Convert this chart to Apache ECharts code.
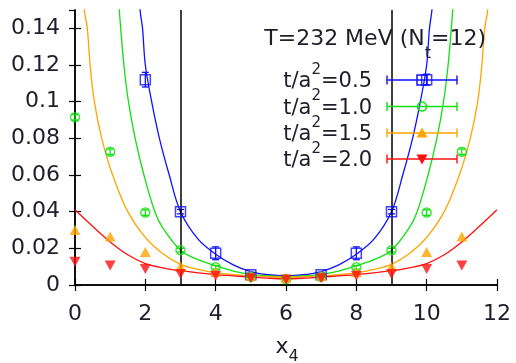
<!DOCTYPE html>
<html><head><meta charset="utf-8">
<script src="https://cdn.jsdelivr.net/npm/echarts@6/dist/echarts.min.js"></script>
<style>html,body{margin:0;padding:0;background:#fff}#c{width:516px;height:363px}</style>
</head><body><div id="c"></div>
<script>
// ---- data ----
const cutLines = [3, 9];
const legendLabels = ['0.5', '1.0', '1.5', '2.0'];
const titleMain = 'T=232 MeV (N';
const titleSub = 't';
const titleEnd = '=12)';

// points: [x, y, error]
const bluePts = [[2,0.112,0.004],[3,0.040,0.0012],[4,0.0173,0.0035],[5,0.0056,0.001],[7,0.0056,0.001],[8,0.0173,0.0035],[9,0.040,0.0012],[10,0.112,0.003]];
const greenPts = [[0,0.0915,0.0015],[1,0.0727,0.0015],[2,0.0395,0.0015],[3,0.019,0.001],[4,0.0097,0.001],[5,0.0045,0.0005],[6,0.0032,0.0005],[7,0.0045,0.0005],[8,0.0097,0.001],[9,0.019,0.001],[10,0.0395,0.0015],[11,0.0727,0.0015]];
const orangePts = [[0,0.030],[1,0.0264],[2,0.018],[3,0.010],[4,0.0071],[5,0.005],[6,0.004],[7,0.005],[8,0.0071],[9,0.010],[10,0.018],[11,0.0264]];
const redPts = [[0,0.0127],[1,0.0107],[2,0.0087],[3,0.006],[4,0.005],[5,0.0037],[6,0.003],[7,0.0037],[8,0.005],[9,0.006],[10,0.0087],[11,0.0107]];

// fit curves: [x, y]
const blueCurve = [[1.7,0.19],[1.85,0.15],[1.92,0.14],[2.0,0.12],[2.18,0.10],[2.4,0.08],[2.68,0.06],[3,0.040],[3.5,0.025],[4,0.0168],[4.5,0.011],[5,0.0073],[5.5,0.0056],[6,0.005],[6.5,0.0056],[7,0.0073],[7.5,0.011],[8,0.0168],[8.5,0.025],[9,0.040],[9.32,0.06],[9.6,0.08],[9.82,0.10],[10,0.12],[10.08,0.14],[10.15,0.15],[10.3,0.19]];
const greenCurve = [[1.15,0.19],[1.26,0.15],[1.30,0.14],[1.39,0.12],[1.52,0.10],[1.71,0.08],[1.96,0.06],[2.27,0.040],[2.5,0.031],[3,0.019],[3.5,0.0138],[4,0.0105],[4.5,0.0076],[5,0.0058],[5.5,0.0049],[6,0.0045],[6.5,0.0049],[7,0.0058],[7.5,0.0076],[8,0.0105],[8.5,0.0138],[9,0.019],[9.5,0.031],[9.73,0.040],[10.04,0.06],[10.29,0.08],[10.48,0.10],[10.61,0.12],[10.70,0.14],[10.74,0.15],[10.85,0.19]];
const orangeCurve = [[0.15,0.19],[0.265,0.15],[0.35,0.14],[0.43,0.12],[0.55,0.10],[0.76,0.08],[1.07,0.06],[1.5,0.040],[2,0.026],[2.5,0.017],[3,0.0113],[3.5,0.0085],[4,0.0066],[4.5,0.0057],[5,0.005],[5.5,0.0045],[6,0.0043],[6.5,0.0045],[7,0.005],[7.5,0.0057],[8,0.0066],[8.5,0.0085],[9,0.0113],[9.5,0.017],[10,0.026],[10.5,0.040],[10.93,0.06],[11.24,0.08],[11.45,0.10],[11.57,0.12],[11.65,0.14],[11.735,0.15],[11.85,0.19]];
const redCurve = [[0,0.041],[0.5,0.032],[1,0.0235],[1.5,0.0165],[2,0.0117],[2.5,0.0094],[3,0.0078],[3.5,0.0066],[4,0.0057],[4.5,0.005],[5,0.0043],[5.5,0.0037],[6,0.0034],[6.5,0.0037],[7,0.0043],[7.5,0.005],[8,0.0057],[8.5,0.0066],[9,0.0078],[9.5,0.0094],[10,0.0117],[10.5,0.0165],[11,0.0235],[11.5,0.032],[12,0.041]];

// ---- styling ----
const FONT = 'DejaVu Sans';
const TXT = '#1e1e2a';
const C = {blue:'#1010ff', green:'#10e010', orange:'#ffa500', red:'#ff1010'};

const chart = echarts.init(document.getElementById('c'), null, {renderer:'canvas'});

function errSeries(pts, color) {
  return {
    type:'custom', z:4, silent:true,
    data: pts.map(p => [p[0], p[1]-p[2], p[1]+p[2]]),
    encode:{x:0, y:[1,2]},
    renderItem:(params, api) => {
      const a = api.coord([api.value(0), api.value(1)]);
      const b = api.coord([api.value(0), api.value(2)]);
      const w = 3.5;
      const st = {stroke:color, lineWidth:1.3};
      return {type:'group', children:[
        {type:'line', shape:{x1:a[0],y1:a[1],x2:b[0],y2:b[1]}, style:st},
        {type:'line', shape:{x1:a[0]-w,y1:a[1],x2:a[0]+w,y2:a[1]}, style:st},
        {type:'line', shape:{x1:b[0]-w,y1:b[1],x2:b[0]+w,y2:b[1]}, style:st}
      ]};
    }
  };
}
function curve(data, color) {
  return {type:'line', data, smooth:0.35, showSymbol:false, silent:true, z:2,
    lineStyle:{color, width:1.3}, clip:true};
}

const axisLine = {show:true, lineStyle:{color:'#000', width:1.5}};
const tick = {show:true, inside:true, length:6, lineStyle:{color:'#000', width:1.2}};

const option = {
  animation:false,
  backgroundColor:'#fff',
  grid:{left:75, top:10, right:19, bottom:78},
  xAxis:[
    {type:'value', min:0, max:12, interval:2, axisLine, axisTick:tick, splitLine:{show:false},
     axisLabel:{fontFamily:FONT, fontSize:22, color:TXT, margin:18}},
    {type:'value', position:'top', min:0, max:12, interval:2, axisLine, axisTick:tick, splitLine:{show:false}, axisLabel:{show:false}}
  ],
  yAxis:[
    {type:'value', min:0, max:0.15, interval:0.02, axisLine, axisTick:tick, splitLine:{show:false},
     axisLabel:{fontFamily:FONT, fontSize:22, color:TXT, margin:15, showMaxLabel:false}},
    {type:'value', position:'right', min:0, max:0.15, interval:0.02, axisLine, axisTick:tick, splitLine:{show:false}, axisLabel:{show:false}}
  ],
  series:[
    curve(blueCurve, C.blue), curve(greenCurve, C.green), curve(orangeCurve, C.orange), curve(redCurve, C.red),
    {type:'line', data:[], silent:true, z:3,
     markLine:{silent:true, symbol:['none','none'], label:{show:false},
       lineStyle:{color:'#000', width:1.5, type:'solid'},
       data: cutLines.map(v => ({xAxis:v}))}},
    errSeries(bluePts, C.blue),
    {type:'scatter', z:5, data: bluePts.map(p=>[p[0],p[1]]), symbol:'rect', symbolSize:[10,10],
     itemStyle:{color:'rgba(0,0,0,0)', borderColor:C.blue, borderWidth:1.5}},
    errSeries(greenPts, C.green),
    {type:'scatter', z:5, data: greenPts.map(p=>[p[0],p[1]]), symbol:'circle', symbolSize:9,
     itemStyle:{color:'rgba(0,0,0,0)', borderColor:C.green, borderWidth:1.5}},
    {type:'scatter', z:5, data: orangePts, symbol:'triangle', symbolSize:[11,10],
     itemStyle:{color:C.orange}},
    {type:'scatter', z:5, data: redPts, symbol:'triangle', symbolRotate:180, symbolSize:[11,10],
     itemStyle:{color:C.red}}
  ],
  graphic: []
};

// title
option.graphic.push({type:'text', right:30, top:28, z:10, style:{
  text:'{n|' + titleMain + '}{s|' + titleSub + '}{n|' + titleEnd + '}',
  rich:{n:{fontFamily:FONT, fontSize:22, lineHeight:22, verticalAlign:'top', fill:TXT},
        s:{fontFamily:FONT, fontSize:16, lineHeight:34, verticalAlign:'bottom', fill:TXT}}
}});

// legend
const legendColors = [C.blue, C.green, C.orange, C.red];
const rowY = [80, 106.5, 133, 159];
const xL = 387, xR = 457, xM = 422;
legendLabels.forEach((lab, i) => {
  const y = rowY[i], col = legendColors[i];
  option.graphic.push({type:'text', z:10, x:372, y:y-2.5, style:{
    text:'{n|t/a}{s|2}{n|=' + lab + '}', align:'right', verticalAlign:'middle',
    rich:{n:{fontFamily:FONT, fontSize:21, lineHeight:30, verticalAlign:'bottom', fill:TXT},
          s:{fontFamily:FONT, fontSize:15, lineHeight:16, verticalAlign:'top', fill:TXT}}
  }});
  const st = {stroke:col, lineWidth:1.4};
  option.graphic.push({type:'line', z:10, shape:{x1:xL,y1:y,x2:xR,y2:y}, style:st});
  option.graphic.push({type:'line', z:10, shape:{x1:xL,y1:y-4.5,x2:xL,y2:y+4.5}, style:st});
  option.graphic.push({type:'line', z:10, shape:{x1:xR,y1:y-4.5,x2:xR,y2:y+4.5}, style:st});
  if (i === 0) option.graphic.push({type:'rect', z:11, shape:{x:xM-5,y:y-5,width:10,height:10}, style:{fill:'none', stroke:col, lineWidth:1.5}});
  if (i === 1) option.graphic.push({type:'circle', z:11, shape:{cx:xM,cy:y,r:4.5}, style:{fill:'none', stroke:col, lineWidth:1.5}});
  if (i === 2) option.graphic.push({type:'polygon', z:11, shape:{points:[[xM,y-5.5],[xM-5.5,y+4.5],[xM+5.5,y+4.5]]}, style:{fill:col}});
  if (i === 3) option.graphic.push({type:'polygon', z:11, shape:{points:[[xM,y+5.5],[xM-5.5,y-4.5],[xM+5.5,y-4.5]]}, style:{fill:col}});
});

// x-axis title x_4
option.graphic.push({type:'text', z:10, x:287, y:336, style:{
  text:'{n|x}{s|4}', align:'center', verticalAlign:'top',
  rich:{n:{fontFamily:FONT, fontSize:22, lineHeight:22, verticalAlign:'top', fill:TXT},
        s:{fontFamily:FONT, fontSize:16, lineHeight:29, verticalAlign:'bottom', fill:TXT}}
}});

chart.setOption(option);
</script>
</body></html>
